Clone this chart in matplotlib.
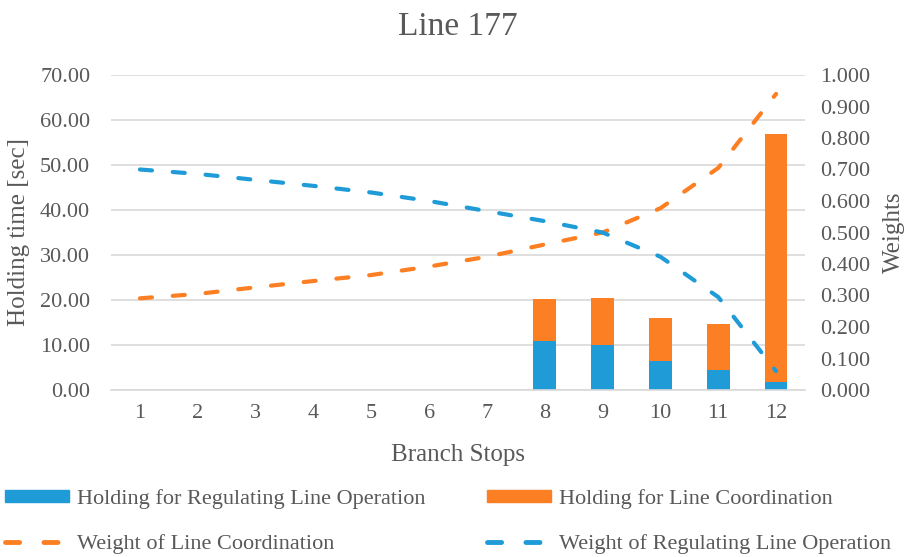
import matplotlib
matplotlib.use('Agg')
import matplotlib.pyplot as plt
import matplotlib.patches as mpatches
from matplotlib.lines import Line2D
from matplotlib.ticker import FuncFormatter
import numpy as np

# ── Data ─────────────────────────────────────────────────────────────────────

stops = list(range(1, 13))
hold_regulating = [0, 0, 0, 0, 0, 0, 0, 10.8, 10.0, 6.4, 4.4, 1.7]
hold_coordination = [0, 0, 0, 0, 0, 0, 0, 9.4, 10.5, 9.5, 10.2, 55.1]
weight_coordination = [0.291, 0.305, 0.326, 0.346, 0.365, 0.392, 0.423,
                       0.462, 0.500, 0.577, 0.705, 0.940]
weight_regulating = [0.700, 0.686, 0.667, 0.648, 0.627, 0.600, 0.568,
                     0.536, 0.500, 0.423, 0.295, 0.060]

left_ticks = [0, 10, 20, 30, 40, 50, 60, 70]
right_ticks = [0.0, 0.1, 0.2, 0.3, 0.4, 0.5, 0.6, 0.7, 0.8, 0.9, 1.0]

# ── Style ────────────────────────────────────────────────────────────────────

BLUE = '#1f9bd7'
ORANGE = '#fd7f23'
TEXT = '#595959'
GRID = '#d9d9d9'

plt.rcParams['font.family'] = ['Liberation Serif', 'DejaVu Serif']
plt.rcParams['text.color'] = TEXT

DASH = (2.9, 5.0)

fig = plt.figure(figsize=(9.09, 5.57), dpi=100)
ax = fig.add_axes([111 / 909, 1 - 390 / 557, 694 / 909, 315 / 557])
ax2 = ax.twinx()

x = np.array(stops)
ax.bar(x, hold_regulating, width=0.39, color=BLUE, zorder=2)
ax.bar(x, hold_coordination, width=0.39, bottom=hold_regulating,
       color=ORANGE, zorder=2)

ax2.plot(x, weight_coordination, color=ORANGE, linewidth=3,
         dashes=DASH, dash_capstyle='round')
ax2.plot(x, weight_regulating, color=BLUE, linewidth=3,
         dashes=DASH, dash_capstyle='round')

ax.set_xlim(0.5, 12.5)
ax.set_ylim(0, 70)
ax2.set_ylim(0, 1)
ax.set_xticks(stops)
ax.set_yticks(left_ticks)
ax2.set_yticks(right_ticks)
ax.yaxis.set_major_formatter(FuncFormatter(lambda v, p: f'{v:.2f}'))
ax2.yaxis.set_major_formatter(FuncFormatter(lambda v, p: f'{v:.3f}'))

ax.grid(axis='y', color=GRID, linewidth=1.2, zorder=0)
ax.set_axisbelow(True)
for a in (ax, ax2):
    for s in a.spines.values():
        s.set_visible(False)
ax.spines['bottom'].set_visible(True)
ax.spines['bottom'].set_color(GRID)
ax.spines['bottom'].set_linewidth(1.2)

ax.tick_params(axis='y', length=0, pad=15, labelsize=16, labelcolor=TEXT)
ax.tick_params(axis='x', length=0, pad=10, labelsize=16, labelcolor=TEXT)
ax2.tick_params(axis='y', length=0, pad=11, labelsize=16, labelcolor=TEXT)

ax.set_ylabel('Holding time [sec]', fontsize=18, color=TEXT)
ax.yaxis.set_label_coords(-0.117, 0.5)
ax2.set_ylabel('Weights', fontsize=18, color=TEXT, rotation=90)
ax2.yaxis.set_label_coords(1.112, 0.5)
ax.set_xlabel('Branch Stops', fontsize=18, color=TEXT)
ax.xaxis.set_label_coords(0.5, -0.172)
ax.set_title('Line 177', fontsize=24, color=TEXT, y=1.099)

# ── Legend ───────────────────────────────────────────────────────────────────

handles = [
    mpatches.Patch(color=BLUE, label='Holding for Regulating Line Operation'),
    Line2D([], [], color=ORANGE, linewidth=3.5, dashes=DASH,
           dash_capstyle='round', label='Weight of Line Coordination'),
    mpatches.Patch(color=ORANGE, label='Holding for Line Coordination'),
    Line2D([], [], color=BLUE, linewidth=3.5, dashes=DASH,
           dash_capstyle='round', label='Weight of Regulating Line Operation'),
]
fig.legend(handles=handles, ncol=2, loc='upper left',
           bbox_to_anchor=(5 / 909, 1 - 489 / 557), frameon=False,
           fontsize=16, borderpad=0, borderaxespad=0,
           handlelength=2.88, handleheight=0.48, handletextpad=0.36,
           columnspacing=2.75, labelspacing=1.14, labelcolor=TEXT)

fig.savefig('out.png', dpi=100)
